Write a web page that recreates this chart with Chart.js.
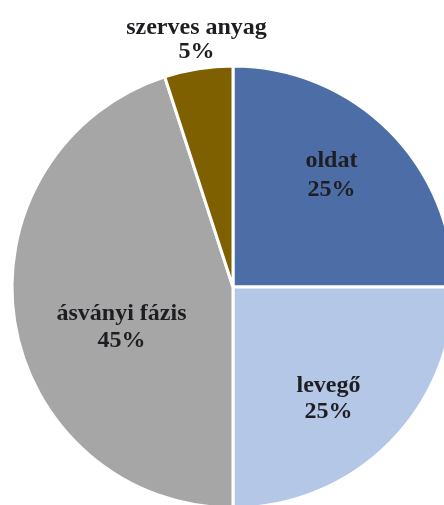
<!DOCTYPE html>
<html>
<head>
<meta charset="utf-8">
<script src="https://cdn.jsdelivr.net/npm/chart.js@4/dist/chart.umd.min.js"></script>
<style>
  html, body { margin: 0; padding: 0; background: #ffffff; overflow: hidden; }
  #wrap { position: absolute; left: 0; top: 0; width: 466px; height: 574px; }
</style>
</head>
<body>
<div id="wrap"><canvas id="pie"></canvas></div>
<script>
// Soil composition shares
const categories = ['oldat', 'levegő', 'ásványi fázis', 'szerves anyag'];
const shares = [25, 25, 45, 5];
const sliceColors = ['#4C6DA5', '#B4C7E7', '#A6A6A6', '#7F6000'];

// Where each label sits: fraction of the radius and a small angular nudge (degrees)
const labelPlacement = [
  { frac: 0.675, nudge: -3.7, lineHeight: 29 },
  { frac: 0.664, nudge: 4.4, lineHeight: 26 },
  { frac: 0.537, nudge: -11, lineHeight: 27 },
  { frac: 1.13, nudge: 0.6, lineHeight: 24 }
];

const sliceLabels = {
  id: 'sliceLabels',
  afterDatasetsDraw(chart) {
    const ctx = chart.ctx;
    const meta = chart.getDatasetMeta(0);
    const data = chart.data.datasets[0].data;
    ctx.save();
    ctx.font = 'bold 24px "Liberation Serif", "Times New Roman", serif';
    ctx.fillStyle = '#1E1E22';
    ctx.textAlign = 'center';
    ctx.textBaseline = 'middle';
    meta.data.forEach((arc, i) => {
      const p = arc.getProps(['x', 'y', 'startAngle', 'endAngle', 'outerRadius'], true);
      const place = labelPlacement[i];
      const ang = (p.startAngle + p.endAngle) / 2 + place.nudge * Math.PI / 180;
      const cx = p.x + Math.cos(ang) * p.outerRadius * place.frac;
      const cy = p.y + Math.sin(ang) * p.outerRadius * place.frac;
      const lines = [chart.data.labels[i], data[i] + '%'];
      const h = place.lineHeight;
      ctx.fillText(lines[0], cx, cy - h / 2);
      ctx.fillText(lines[1], cx, cy + h / 2);
    });
    ctx.restore();
  }
};

new Chart(document.getElementById('pie'), {
  type: 'pie',
  data: {
    labels: categories,
    datasets: [{
      data: shares,
      backgroundColor: sliceColors,
      borderColor: '#ffffff',
      borderWidth: 3
    }]
  },
  options: {
    responsive: true,
    maintainAspectRatio: false,
    animation: false,
    radius: 221,
    layout: { padding: 0 },
    plugins: {
      legend: { display: false },
      tooltip: { enabled: false }
    }
  },
  plugins: [sliceLabels]
});
</script>
</body>
</html>
